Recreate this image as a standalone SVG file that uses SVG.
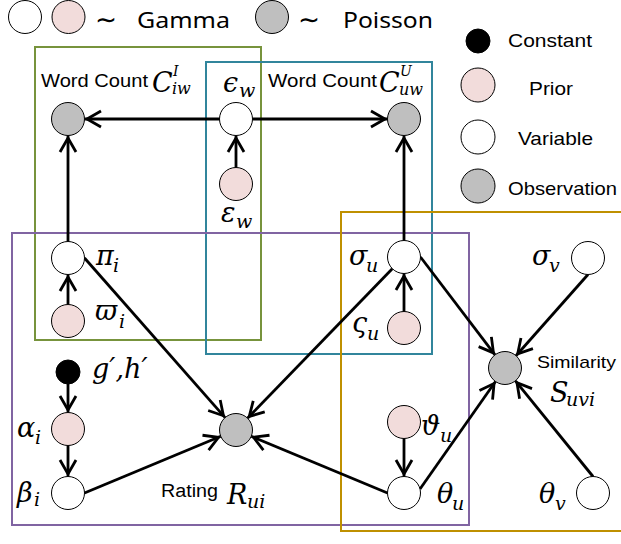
<svg xmlns="http://www.w3.org/2000/svg" width="621" height="544" viewBox="0 0 621 544">
<style>
.n{stroke:#000;stroke-width:1}
.w{fill:#fff}.p{fill:#F2DCDB}.g{fill:#BFBFBF}.k{fill:#000}
.e{stroke:#000;stroke-width:2.8;fill:none;marker-end:url(#a)}
.b{fill:none;stroke-width:2}
.m{font-family:"DejaVu Serif","Liberation Serif",serif;font-style:italic;font-size:27px;fill:#000}
.s{font-size:19px}
.t{font-family:"Liberation Sans",Arial,sans-serif;fill:#000}
.h{font-family:"Noto Sans","Open Sans",sans-serif;font-size:22px;fill:#000}
.tl{font-family:"DejaVu Sans",sans-serif;font-size:28px}
</style>
<defs>
<marker id="a" viewBox="-19 -10 21 20" refX="0" refY="0" markerWidth="21" markerHeight="20" markerUnits="userSpaceOnUse" orient="auto">
<path d="M-16.5,-8 L-2.5,0 L-16.5,8" fill="none" stroke="#000" stroke-width="2.8"/>
</marker>
</defs>
<rect width="621" height="544" fill="#fff"/>

<g id="legend-top">
<circle class="n w" cx="25" cy="17" r="16.5"/>
<circle class="n p" cx="68.5" cy="17" r="16.5"/>
<text class="h" x="95" y="28"><tspan class="tl" y="29" textLength="22" lengthAdjust="spacingAndGlyphs">∼</tspan><tspan x="137" y="28" textLength="93" lengthAdjust="spacingAndGlyphs">Gamma</tspan></text>
<circle class="n g" cx="272" cy="17" r="16.5"/>
<text class="h" x="298" y="28"><tspan class="tl" y="29" textLength="22" lengthAdjust="spacingAndGlyphs">∼</tspan><tspan x="343" y="28" textLength="90" lengthAdjust="spacingAndGlyphs">Poisson</tspan></text>
</g>

<g id="legend-right">
<circle class="n k" cx="478" cy="41" r="12"/>
<text class="t" x="508" y="47" font-size="19" textLength="84" lengthAdjust="spacingAndGlyphs">Constant</text>
<circle class="n p" cx="478" cy="85" r="17"/>
<text class="t" x="529" y="95" font-size="19" textLength="44" lengthAdjust="spacingAndGlyphs">Prior</text>
<circle class="n w" cx="478" cy="137" r="17"/>
<text class="t" x="518" y="145" font-size="19" textLength="75" lengthAdjust="spacingAndGlyphs">Variable</text>
<circle class="n g" cx="478" cy="186" r="17"/>
<text class="t" x="508" y="195" font-size="19" textLength="109" lengthAdjust="spacingAndGlyphs">Observation</text>
</g>

<g id="plates">
<rect class="b" x="35" y="47" width="226" height="293" stroke="#77933C"/>
<rect class="b" x="206" y="62" width="226" height="292" stroke="#31859C"/>
<rect class="b" x="12" y="233" width="457" height="292" stroke="#8064A2"/>
<rect class="b" x="341" y="212" width="290" height="319" stroke="#BF9000"/>
</g>

<g id="connectors">
<line class="e" x1="219.5" y1="119" x2="84.5" y2="119"/>
<line class="e" x1="252.5" y1="119" x2="387.5" y2="119"/>
<line class="e" x1="236" y1="167.5" x2="236" y2="135.5"/>
<line class="e" x1="68" y1="241.5" x2="68" y2="135.5"/>
<line class="e" x1="68" y1="304.5" x2="68" y2="274.5"/>
<line class="e" x1="404" y1="240.5" x2="404" y2="135.5"/>
<line class="e" x1="404" y1="311.5" x2="404" y2="273.5"/>
<line class="e" x1="68" y1="384" x2="68" y2="412.5"/>
<line class="e" x1="68" y1="445.5" x2="68" y2="476.5"/>
<line class="e" x1="404" y1="438.5" x2="404" y2="476.5"/>
<line class="e" x1="84.5" y1="258" x2="225.1" y2="417.6"/>
<line class="e" x1="392.3" y1="268.7" x2="247.5" y2="418.2"/>
<line class="e" x1="84.5" y1="493" x2="220.8" y2="436.3"/>
<line class="e" x1="387.5" y1="493" x2="251.2" y2="436.3"/>
<line class="e" x1="420.5" y1="257" x2="495" y2="354.9"/>
<line class="e" x1="588" y1="274.5" x2="516" y2="355.7"/>
<line class="e" x1="420" y1="489" x2="495.5" y2="381.5"/>
<line class="e" x1="593" y1="476.5" x2="515.4" y2="380.8"/>
</g>

<g id="C_iw">
<circle class="n g" cx="68" cy="119" r="16.5"/>
<text class="t" x="41" y="87" font-size="19" textLength="107" lengthAdjust="spacingAndGlyphs">Word Count</text>
<text class="m" x="152" y="92">C<tspan x="173" y="76" font-size="14">I</tspan><tspan x="172" y="94" font-size="16">iw</tspan></text>
</g>
<g id="epsilon_w">
<circle class="n w" cx="236" cy="119" r="16.5"/>
<text class="m" x="223" y="92">ϵ<tspan class="s" x="239" y="97">w</tspan></text>
</g>
<g id="C_uw">
<circle class="n g" cx="404" cy="119" r="16.5"/>
<text class="t" x="268" y="87" font-size="19" textLength="109" lengthAdjust="spacingAndGlyphs">Word Count</text>
<text class="m" x="379" y="92">C<tspan x="400" y="76" font-size="14">U</tspan><tspan x="399" y="95" font-size="16">uw</tspan></text>
</g>
<g id="varepsilon_w">
<circle class="n p" cx="236" cy="184" r="16.5"/>
<text class="m" x="221" y="222">ε<tspan class="s" x="236" y="228">w</tspan></text>
</g>
<g id="pi_i">
<circle class="n w" cx="68" cy="258" r="16.5"/>
<text class="m" x="96" y="265">π<tspan class="s" x="113" y="272">i</tspan></text>
</g>
<g id="varpi_i">
<circle class="n p" cx="68" cy="321" r="16.5"/>
<text class="m" x="95" y="320">ϖ<tspan class="s" x="119" y="328">i</tspan></text>
</g>
<g id="sigma_u">
<circle class="n w" cx="404" cy="257" r="16.5"/>
<text class="m" x="349" y="265">σ<tspan class="s" x="366" y="272">u</tspan></text>
</g>
<g id="varsigma_u">
<circle class="n p" cx="404" cy="328" r="16.5"/>
<text class="m" x="352" y="332">ς<tspan class="s" x="367" y="340">u</tspan></text>
</g>
<g id="sigma_v">
<circle class="n w" cx="588" cy="258" r="16.5"/>
<text class="m" x="532" y="265">σ<tspan class="s" x="549" y="272">v</tspan></text>
</g>
<g id="S_uvi">
<circle class="n g" cx="505" cy="368" r="16.5"/>
<text class="t" x="537" y="368" font-size="17" textLength="79" lengthAdjust="spacingAndGlyphs">Similarity</text>
<text class="m" x="550" y="402">S<tspan class="s" x="566" y="406">uvi</tspan></text>
</g>
<g id="gh">
<circle class="n k" cx="68" cy="372" r="12"/>
<text class="m" x="92" y="378">g′,h′</text>
</g>
<g id="alpha_i">
<circle class="n p" cx="68" cy="429" r="16.5"/>
<text class="m" x="17" y="437">α<tspan class="s" x="35" y="444">i</tspan></text>
</g>
<g id="beta_i">
<circle class="n w" cx="68" cy="493" r="16.5"/>
<text class="m" x="17" y="502">β<tspan class="s" x="34" y="506">i</tspan></text>
</g>
<g id="R_ui">
<circle class="n g" cx="236" cy="430" r="16.5"/>
<text class="t" x="161" y="497" font-size="18" textLength="57" lengthAdjust="spacingAndGlyphs">Rating</text>
<text class="m" x="227" y="504">R<tspan class="s" x="247" y="508">ui</tspan></text>
</g>
<g id="vartheta_u">
<circle class="n p" cx="404" cy="422" r="16.5"/>
<text class="m" x="421" y="435">ϑ<tspan class="s" x="440" y="442">u</tspan></text>
</g>
<g id="theta_u">
<circle class="n w" cx="404" cy="493" r="16.5"/>
<text class="m" x="437" y="503">θ<tspan class="s" x="452" y="510">u</tspan></text>
</g>
<g id="theta_v">
<circle class="n w" cx="593" cy="493" r="16.5"/>
<text class="m" x="539" y="503">θ<tspan class="s" x="555" y="510">v</tspan></text>
</g>
</svg>
